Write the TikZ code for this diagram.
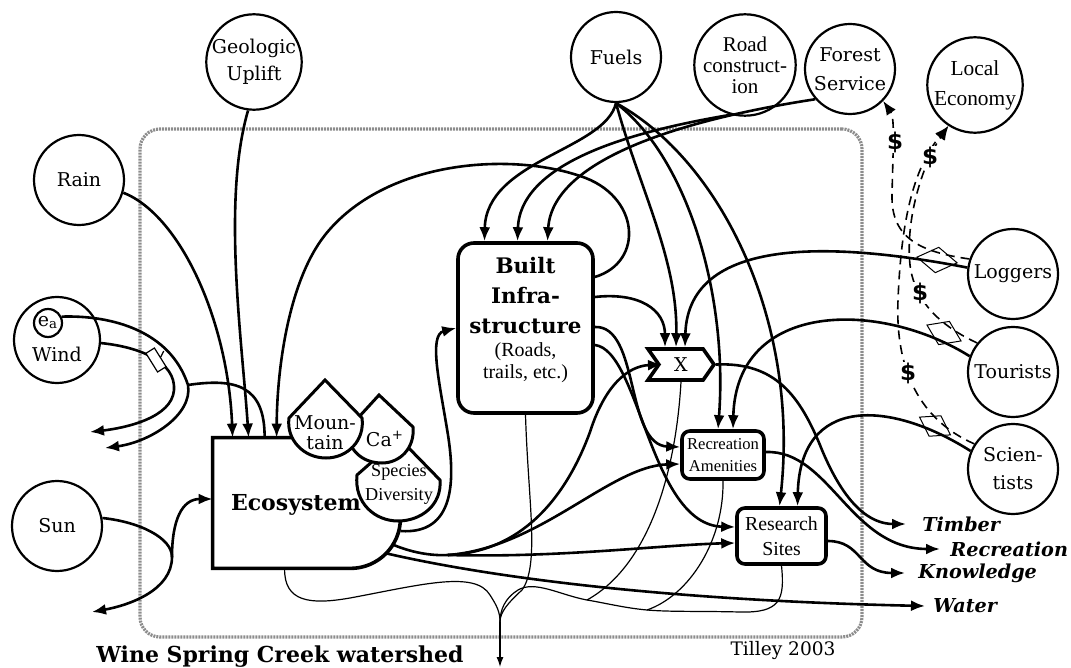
\documentclass[tikz,border=0pt]{standalone}
\usepackage{fontspec}
\setmainfont{DejaVu Serif}
\newfontfamily\timesfont{Liberation Serif}
\newfontfamily\signfont{DejaVu Sans}
\usetikzlibrary{arrows.meta,shapes.geometric,shapes.symbols}

\begin{document}
\begin{tikzpicture}[x=0.5pt,y=-0.5pt,>={Latex[length=7pt,width=5.5pt]},
    flow/.style={->,line width=1.3pt},
    tap/.style={line width=1.3pt},
    sinkline/.style={line width=0.6pt},
    money/.style={->,line width=0.8pt,dash pattern=on 4.5pt off 3pt},
    circ/.style={circle,draw,line width=1.1pt,minimum size=45pt,inner sep=0pt,align=center,fill=white,font=\fontsize{9.5}{13.5}\selectfont},
    tankline/.style={line width=1.5pt,fill=white},
    tag/.style={align=center,inner sep=0pt},
    proc/.style={draw,rounded corners=4pt,line width=1.8pt,inner sep=0pt,fill=white,align=center},
    yield/.style={anchor=west,inner sep=0pt,font=\fontsize{9.6}{11}\selectfont\bfseries\itshape},
    cash/.style={font=\signfont\bfseries\fontsize{11.5}{11.5}\selectfont,fill=white,inner sep=0.5pt},
    deal/.style={diamond,draw,line width=0.5pt,inner sep=0pt}]
  \useasboundingbox (0,0) rectangle (1071,668);

  \node[draw=black!45,line width=1.6pt,dash pattern=on 1pt off 0.5pt,rounded corners=10pt,
        minimum width=361pt,minimum height=254pt,inner sep=0pt] (shed) at (501,383) {};
  \node[font=\fontsize{11}{12}\selectfont\bfseries] (shedname) at (280,657) {Wine Spring Creek watershed};
  \node[font=\fontsize{9.3}{11}\selectfont] (credit) at (783,650) {Tilley 2003};

  \node[circ] (geo) at (254,62) {Geologic\\Uplift};
  \node[circ] (rain) at (79,180) {Rain};
  \node[circ,minimum size=43pt] (wind) at (57,340) {};
  \node[font=\fontsize{9.5}{11}\selectfont] (windlbl) at (57,354) {Wind};
  \node[circ,minimum size=14pt] (ea) at (48,323) {e\textsubscript{a}};
  \node[circ] (sun) at (57,526) {Sun};
  \node[circ] (fuels) at (616,57) {Fuels};
  \node[circ,font=\timesfont\fontsize{10.5}{10.5}\selectfont] (road) at (745,65) {Road\\construct-\\ion};
  \node[circ,font=\fontsize{9.5}{14.5}\selectfont] (forest) at (850,69) {Forest\\Service};
  \node[circ,font=\timesfont\fontsize{10.7}{15}\selectfont] (econ) at (975,85) {Local\\Economy};
  \node[circ] (loggers) at (1013,274) {Loggers};
  \node[circ] (tourists) at (1013,372) {Tourists};
  \node[circ,font=\fontsize{9.5}{14}\selectfont] (scientists) at (1013,469) {Scien-\\tists};

  \node[minimum width=93.5pt,minimum height=65pt,inner sep=0pt] (eco) at (306.5,503) {};
  \draw[line width=1.8pt] (eco.north east) -- (eco.north west) -- (eco.south west)
    -- ([xshift=-25pt]eco.south east) .. controls +(13.8pt,0pt) and +(0pt,-13.8pt) .. ([yshift=25pt]eco.south east) -- cycle;
  \draw[tankline] (399,438) -- (440,480) .. controls (442,505) and (421,521) .. (398,521)
    .. controls (375,521) and (354,503) .. (357,475) -- cycle;
  \draw[tankline] (379,395) -- (413,427) .. controls (415,448) and (400,463) .. (382,463)
    .. controls (362,463) and (348,450) .. (347,430) -- cycle;
  \draw[tankline] (325,380) -- (362,418) .. controls (365,440) and (348,458) .. (326,458)
    .. controls (304,458) and (286,440) .. (289,418) -- cycle;
  \node[tag,font=\fontsize{9.5}{10}\selectfont] (mtn) at (325,433) {Moun-\\tain};
  \node[tag,font=\fontsize{9.5}{11}\selectfont] (calcium) at (385,439) {Ca\textsuperscript{+}};
  \node[tag,font=\timesfont\fontsize{9.1}{12}\selectfont] (spdiv) at (399,484) {Species\\Diversity};
  \node[font=\fontsize{11}{13}\selectfont\bfseries] (ecolabel) at (296,505) {Ecosystem};

  \node[draw,rounded corners=8pt,line width=1.8pt,minimum width=67.5pt,minimum height=85pt,inner sep=0pt] (infra) at (525.5,328) {};
  \node[tag,font=\fontsize{10.7}{15}\selectfont\bfseries] (infratitle) at (525.5,296) {Built\\Infra-\\structure};
  \node[tag,font=\timesfont\fontsize{10}{11}\selectfont] (infranote) at (525.5,363) {(Roads,\\trails, etc.)};

  \node[signal,signal to=east,signal from=west,signal pointer angle=110,draw,line width=1.8pt,
        minimum width=33pt,minimum height=15.5pt,inner sep=0pt,fill=white,font=\fontsize{9.5}{11}\selectfont] (xgate) at (681,364.5) {X};
  \node[proc,minimum width=41pt,minimum height=24pt,font=\timesfont\fontsize{8.3}{11}\selectfont] (recam) at (723,455) {Recreation\\Amenities};
  \node[proc,minimum width=44.5pt,minimum height=28pt,font=\timesfont\fontsize{9.9}{12.5}\selectfont] (rsites) at (781.5,536) {Research\\Sites};

  \node[yield] (timber) at (922,524) {Timber};
  \node[yield] (recreation) at (950,549) {Recreation};
  \node[yield] (knowledge) at (918,573) {Knowledge};
  \node[yield] (water) at (933,606) {Water};

  \coordinate (windbend) at (188,385);
  \coordinate (windout1) at (90,432);
  \coordinate (windout2) at (105,448);
  \coordinate (sunsplit) at (172,557);
  \coordinate (sunout) at (92,612);
  \coordinate (ecofork) at (448,555);
  \coordinate (sink) at (500,622);
  \coordinate (sinkout) at (500,667);
  \coordinate (join1) at (587,600);
  \coordinate (join2) at (647,610);

  \draw[flow] (rain.-16) .. controls (180,215) and (228,320) .. ([xshift=10pt]eco.north west);
  \draw[flow] (geo.-97) .. controls (222,200) and (242,340) .. ([xshift=18pt]eco.north west);
  \draw[flow] ([yshift=25.5pt]infra.east) .. controls (645,262) and (640,195) .. (580,176)
    .. controls (510,152) and (385,160) .. (325,235) .. controls (288,282) and (277,370) .. ([xshift=32pt]eco.north west);

  \draw[flow] (wind.-4) .. controls (140,347) and (176,362) .. (174,390) .. controls (172,418) and (125,428) .. (windout1);
  \draw[flow] (ea.25) .. controls (110,315) and (170,330) .. (windbend) .. controls (193,415) and (150,442) .. (windout2);
  \draw[tap] (windbend) .. controls (235,378) and (265,385) .. ([xshift=26pt]eco.north west);
  \node[draw,line width=0.6pt,fill=white,minimum width=11pt,minimum height=5pt,inner sep=0pt,rotate=-58] (windgate) at (156,360) {};
  \draw[line width=0.6pt] (windgate.north) -- ++(1.5pt,3pt);

  \draw[tap] (sun.10) .. controls (140,522) and (172,538) .. (sunsplit);
  \draw[flow] (sunsplit) .. controls (172,590) and (130,605) .. (sunout);
  \draw[flow] (sunsplit) .. controls (172,520) and (182,499) .. ([yshift=2pt]eco.west);

  \draw[flow] ([yshift=-14pt]eco.east) .. controls (455,535) and (455,480) .. (448,435)
    .. controls (440,385) and (428,335) .. (infra.west);
  \draw[tap] ([xshift=-4pt,yshift=12pt]eco.south east) .. controls (410,552) and (430,556) .. (ecofork);
  \draw[flow] (ecofork) .. controls (520,552) and (565,500) .. (590,432)
    .. controls (605,385) and (628,366) .. ([xshift=-9.5pt]xgate.center);
  \draw[flow] (ecofork) .. controls (540,548) and (610,466) .. ([yshift=-4.5pt]recam.west);
  \draw[flow] (ecofork) .. controls (560,558) and (660,545) .. ([yshift=-3.5pt]rsites.west);
  \draw[flow] ([xshift=-7pt,yshift=7.5pt]eco.south east) .. controls (480,575) and (650,600) .. ([xshift=-4pt]water.west);

  \draw[flow] ([yshift=15.5pt]infra.east) .. controls (640,292) and (665,310) .. ([xshift=-8pt]xgate.north);
  \draw[flow] ([yshift=0.5pt]infra.east) .. controls (640,325) and (625,445) .. ([yshift=4pt]recam.west);
  \draw[flow] ([yshift=-8.5pt]infra.east) .. controls (640,350) and (650,525) .. ([yshift=4.5pt]rsites.west);

  \draw[flow] (fuels.south) .. controls (605,150) and (486,160) .. ([xshift=-20.5pt]infra.north);
  \draw[flow] (road.-106) .. controls (640,130) and (520,160) .. ([xshift=-4pt]infra.north);
  \draw[flow] (forest.-139) .. controls (680,120) and (552,160) .. ([xshift=11pt]infra.north);
  \draw[flow] (fuels.south) .. controls (640,190) and (678,260) .. ([xshift=-2.5pt]xgate.north);
  \draw[flow] (fuels.south) .. controls (690,160) and (728,300) .. ([xshift=-2.5pt]recam.north);
  \draw[flow] (fuels.south) .. controls (720,160) and (800,320) .. ([xshift=-1pt]rsites.north);

  \draw[flow] (loggers.172) .. controls (850,245) and (688,230) .. ([xshift=2pt]xgate.north);
  \draw[flow] (tourists.160) .. controls (880,300) and (736,300) .. ([xshift=5pt]recam.north);
  \draw[flow] (scientists.157) .. controls (890,400) and (800,395) .. ([xshift=8pt]rsites.north);

  \draw[flow] (xgate.east) .. controls (775,362) and (800,395) .. (822,450)
    .. controls (845,505) and (870,524) .. ([xshift=-8pt]timber.west);
  \draw[flow] ([yshift=1.5pt]recam.east) .. controls (830,450) and (850,549) .. ([xshift=-5pt]recreation.west);
  \draw[flow] ([yshift=-2.5pt]rsites.east) .. controls (862,541) and (858,573) .. ([xshift=-6.5pt]knowledge.west);

  \draw[sinkline] ([xshift=36pt]eco.south west) .. controls (284,602) and (310,605) .. (350,598)
    .. controls (420,585) and (475,570) .. (490,595) .. controls (497,606) and (500,612) .. (sink);
  \draw[sinkline] (infra.south) .. controls (528,500) and (540,565) .. (522,590)
    .. controls (508,603) and (500,612) .. (sink);
  \draw[sinkline] (xgate.south) .. controls (676,470) and (650,565) .. (join1);
  \draw[sinkline] (recam.south) .. controls (724,540) and (690,595) .. (join2);
  \draw[sinkline] (rsites.south) .. controls (785,600) and (780,613) .. (740,612)
    .. controls (700,611) and (670,612) .. (join2) .. controls (625,608) and (605,603) .. (join1)
    .. controls (560,595) and (535,580) .. (518,590) .. controls (505,598) and (500,610) .. (sink);
  \draw[sinkline,-{Latex[length=5pt,width=3.5pt]}] (sink) -- (sinkout);

  \draw[money] (loggers.161) .. controls (920,252) and (891,238) .. (892,195)
    .. controls (893,150) and (895,118) .. (forest.-44);
  \draw[money] (tourists.141) .. controls (945,328) and (915,305) .. (910,265)
    .. controls (905,215) and (925,160) .. (econ.-123);
  \draw[money] (scientists.147) .. controls (920,420) and (895,370) .. (898,300)
    .. controls (901,225) and (912,170) .. (econ.-123);
  \node[deal,minimum width=20.5pt,minimum height=13pt,rotate=-8] (deal1) at (937,260) {};
  \node[deal,minimum width=19pt,minimum height=13pt,rotate=-25] (deal2) at (944,333) {};
  \node[deal,minimum width=18pt,minimum height=12pt,rotate=-30] (deal3) at (935,426) {};
  \node[cash] (cash1) at (895,142) {\$};
  \node[cash] (cash2) at (930,157) {\$};
  \node[cash] (cash3) at (920,293) {\$};
  \node[cash] (cash4) at (908,373) {\$};
\end{tikzpicture}
\end{document}
